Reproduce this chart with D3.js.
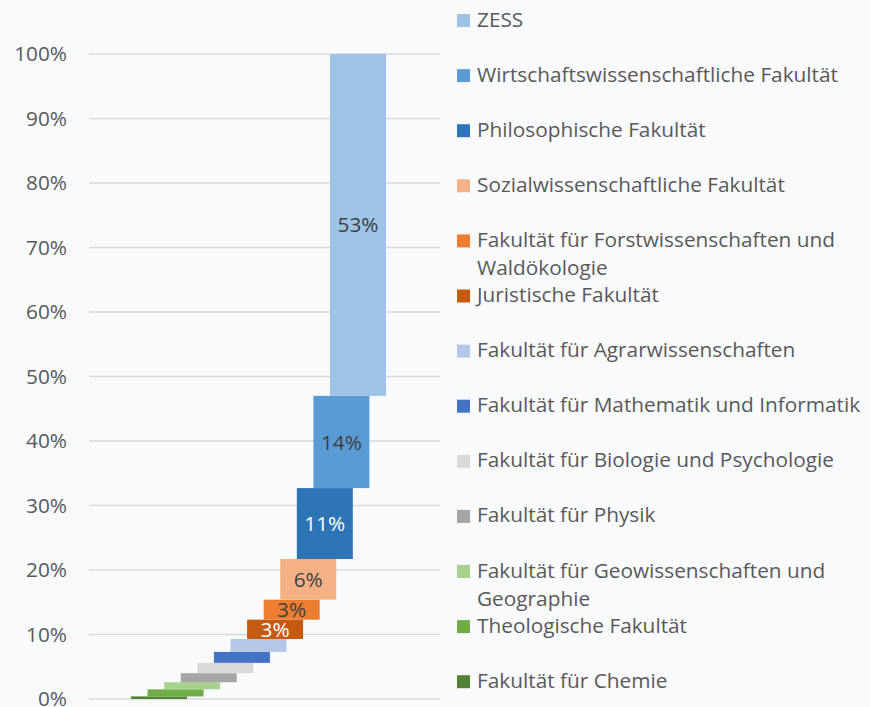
<!DOCTYPE html>
<html>
<head>
<meta charset="utf-8">
<script src="https://cdn.jsdelivr.net/npm/d3@7"></script>
<style>
  html, body { margin: 0; padding: 0; background: #f9fafc; }
  svg { display: block; font-family: "Open Sans", sans-serif; }
</style>
</head>
<body>
<div id="chart"></div>
<script>
// Fakultäten, von unten (erste Stufe) nach oben
const faculties = [
  "Fakultät für Chemie",
  "Theologische Fakultät",
  "Fakultät für Geowissenschaften und Geographie",
  "Fakultät für Physik",
  "Fakultät für Biologie und Psychologie",
  "Fakultät für Mathematik und Informatik",
  "Fakultät für Agrarwissenschaften",
  "Juristische Fakultät",
  "Fakultät für Forstwissenschaften und Waldökologie",
  "Sozialwissenschaftliche Fakultät",
  "Philosophische Fakultät",
  "Wirtschaftswissenschaftliche Fakultät",
  "ZESS"
];
const shares = [0.004, 0.011, 0.011, 0.014, 0.016, 0.017, 0.020, 0.030, 0.031, 0.063, 0.110, 0.143, 0.530];
const colors = ["#548235", "#70ad47", "#a9d18e", "#a5a5a5", "#d9d9d9", "#4472c4", "#b4c7e7",
                "#c55a11", "#ed7d31", "#f4b183", "#2e75b6", "#5b9bd5", "#9dc3e6"];
const labelColors = ["#404040", "#404040", "#404040", "#404040", "#404040", "#404040", "#404040",
                     "#ffffff", "#404040", "#404040", "#ffffff", "#404040", "#404040"];
// Legende: Zeilenumbrüche wie im Original
const legendLines = {
  "Fakultät für Forstwissenschaften und Waldökologie": ["Fakultät für Forstwissenschaften und", "Waldökologie"],
  "Fakultät für Geowissenschaften und Geographie": ["Fakultät für Geowissenschaften und", "Geographie"]
};
const yTicks = [0, 0.1, 0.2, 0.3, 0.4, 0.5, 0.6, 0.7, 0.8, 0.9, 1.0];

const width = 870, height = 707;
const fontSize = "20.8px";
const svg = d3.select("#chart").append("svg")
  .attr("width", width)
  .attr("height", height);

const y = d3.scaleLinear().domain([0, 1]).range([699, 54]);
const x = d3.scalePoint().domain(faculties).range([131, 330]);
const barW = 56;

// Stufen berechnen
let acc = 0;
const steps = faculties.map((f, i) => {
  const s = { name: f, start: acc, end: acc + shares[i], value: shares[i], color: colors[i], lc: labelColors[i] };
  acc += shares[i];
  return s;
});

// Gitterlinien
svg.append("g")
  .selectAll("line")
  .data(yTicks)
  .join("line")
  .attr("x1", 89)
  .attr("x2", 440)
  .attr("y1", d => y(d))
  .attr("y2", d => y(d))
  .attr("stroke", "#d9d9d9")
  .attr("stroke-width", 1.5);

// Y-Achse
const yAxis = svg.append("g")
  .attr("transform", "translate(76,0)")
  .call(d3.axisLeft(y).tickValues(yTicks).tickFormat(d3.format(".0%")).tickSize(0).tickPadding(9));
yAxis.select(".domain").remove();
yAxis.selectAll("text")
  .attr("fill", "#595959")
  .style("font-size", fontSize)
  .style("font-family", "'Open Sans', sans-serif");

// Balken
svg.append("g")
  .selectAll("rect")
  .data(steps)
  .join("rect")
  .attr("x", d => x(d.name))
  .attr("y", d => y(d.end))
  .attr("width", barW)
  .attr("height", d => y(d.start) - y(d.end))
  .attr("fill", d => d.color);

// Beschriftungen
svg.append("g")
  .selectAll("text")
  .data(steps.filter(d => d.value >= 0.025))
  .join("text")
  .attr("x", d => x(d.name) + barW / 2)
  .attr("y", d => (y(d.start) + y(d.end)) / 2 + 2)
  .attr("text-anchor", "middle")
  .attr("dominant-baseline", "middle")
  .attr("fill", d => d.lc)
  .style("font-size", fontSize)
  .text(d => d3.format(".0%")(d.value));

// Legende (oben ZESS, unten Chemie)
const legendItems = steps.slice().reverse();
const lg = svg.append("g");
const item = lg.selectAll("g")
  .data(legendItems)
  .join("g")
  .attr("transform", (d, i) => `translate(457,${20.5 + i * 55.1})`);
item.append("rect")
  .attr("x", 0)
  .attr("y", -6.5)
  .attr("width", 13)
  .attr("height", 13)
  .attr("fill", d => d.color);
item.each(function(d) {
  const lines = legendLines[d.name] || [d.name];
  const t = d3.select(this).append("text")
    .attr("x", 20)
    .attr("y", 0)
    .attr("fill", "#595959")
    .style("font-size", fontSize)
    .attr("dominant-baseline", "middle");
  lines.forEach((l, k) => {
    t.append("tspan").attr("x", 20).attr("dy", k === 0 ? 0 : 28).text(l);
  });
});
</script>
</body>
</html>
